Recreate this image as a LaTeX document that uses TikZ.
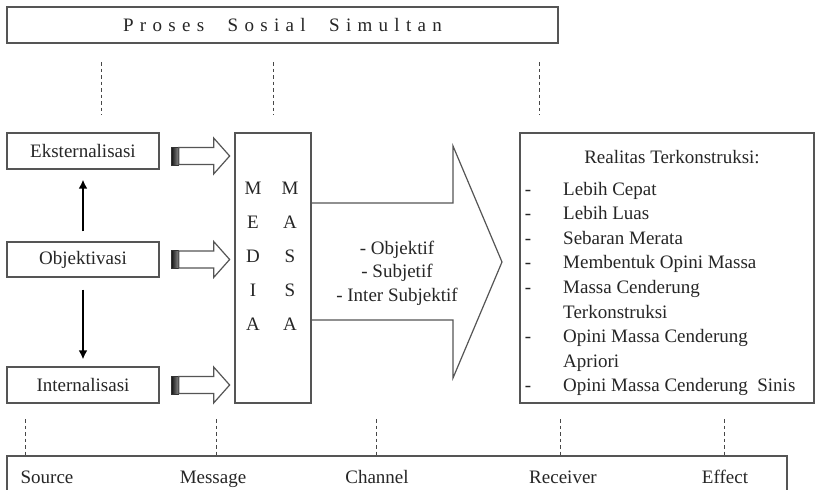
\documentclass[tikz,border=0pt]{standalone}
\usepackage{fontspec}
\setmainfont{Liberation Serif}
\usetikzlibrary{arrows.meta,calc}
\definecolor{ink}{HTML}{262626}
\definecolor{edge}{HTML}{555555}
\newcommand\lsp{\kern6.3pt}
\newcommand\wsp{\hspace{23.5pt}}
\tikzset{
  box/.style={draw=edge,line width=1.3pt,inner sep=0pt,text=ink,
    font=\fontsize{19}{22}\selectfont},
  txt/.style={text=ink,inner sep=0pt,font=\fontsize{19}{22}\selectfont},
  guide/.style={draw=ink!85,line width=0.9pt,dash pattern=on 3.5pt off 3pt},
  updown/.style={draw=black,line width=2.6pt,-{Latex[length=9pt,width=9pt]}},
  pics/blockarrow/.style={code={
    \shade[left color=black!90,right color=black!45,draw=black!80,line width=0.6pt]
      (0,-9) rectangle (7,9);
    \draw[edge,line width=1.2pt,fill=white] (7,-8.5) -- (42,-8.5) -- (42,-18)
      -- (58,0) -- (42,18) -- (42,8.5) -- (7,8.5) -- cycle;
  }}
}
\begin{document}
\begin{tikzpicture}[x=1pt,y=-1pt]
\clip (0,0) rectangle (817,490);
\fill[white] (0,0) rectangle (817,490);

% heading bar
\node[box,minimum width=551pt,minimum height=36pt] (title) at (282.5,25)
  {P\lsp r\lsp o\lsp s\lsp e\lsp s\wsp S\lsp o\lsp s\lsp i\lsp a\lsp l\wsp S\lsp i\lsp m\lsp u\lsp l\lsp t\lsp a\lsp n};

% dialectic stages
\node[box,minimum width=152pt,minimum height=36pt] (eks) at (83,151) {Eksternalisasi};
\node[box,minimum width=152pt,minimum height=35pt] (obj) at (83,259.5) {Objektivasi};
\node[box,minimum width=152pt,minimum height=36pt] (int) at (83,385) {Internalisasi};

\draw[updown] ([yshift=10pt]obj.north) -- ([yshift=-10pt]eks.south);
\draw[updown] ([yshift=-12pt]obj.south) -- ([yshift=7pt]int.north);

% mass media column
\node[box,minimum width=76pt,minimum height=270pt] (media) at (273,268) {};
\node[txt,align=center,font=\fontsize{19}{34}\selectfont] (medcolA) at (253,256) {M\\E\\D\\I\\A};
\node[txt,align=center,font=\fontsize{19}{34}\selectfont] (medcolB) at (290,256) {M\\A\\S\\S\\A};

\pic at ([xshift=12pt,yshift=-5pt]eks.east) {blockarrow};
\pic at ([xshift=12pt]obj.east) {blockarrow};
\pic at ([xshift=12pt]int.east) {blockarrow};

% channel arrow
\draw[edge,line width=1.2pt] (311,203) -- (453,203) -- (453,146) -- (502,262)
  -- (453,378) -- (453,320) -- (311,320);
\node[txt,align=center,font=\fontsize{19}{23.5}\selectfont] (kinds) at (397,273)
  {- Objektif\\- Subjetif\\- Inter Subjektif};

% constructed reality
\node[box,minimum width=294pt,minimum height=270pt] (result) at (667,268) {};
\node[txt] (rtitle) at (672,157) {Realitas Terkonstruksi:};
\foreach \t [count=\i from 0] in {Lebih Cepat,Lebih Luas,Sebaran Merata,
    Membentuk Opini Massa,Massa Cenderung,Terkonstruksi,
    Opini Massa Cenderung,Apriori,Opini Massa Cenderung\ \ Sinis}
  \node[txt,anchor=base west] (item\i) at (563,{195+24.6*\i}) {\t};
\foreach \i in {0,1,2,3,4,6,8}
  \node[txt,anchor=base] (dash\i) at (528,{195+24.6*\i}) {-};

% communication roles
\node[box,minimum width=780pt,minimum height=48pt] (roles) at (397,480) {};
\node[txt,anchor=base] (src) at (47,483) {Source};
\node[txt,anchor=base] (msg) at (213,483) {Message};
\node[txt,anchor=base] (chn) at (377,483) {Channel};
\node[txt,anchor=base] (rcv) at (563,483) {Receiver};
\node[txt,anchor=base] (eff) at (725,483) {Effect};

% guide lines
\foreach \x/\n in {101/a,273/b,539/c} {
  \coordinate (up\n) at (\x,62);
  \coordinate (dn\n) at (\x,115);
  \draw[guide] (up\n) -- (dn\n);
}
\foreach \x/\n in {25/a,216/b,376/c,560/d,724/e} {
  \coordinate (lo\n) at (\x,419);
  \draw[guide] (lo\n) -- (lo\n |- roles.north);
}
\end{tikzpicture}
\end{document}
